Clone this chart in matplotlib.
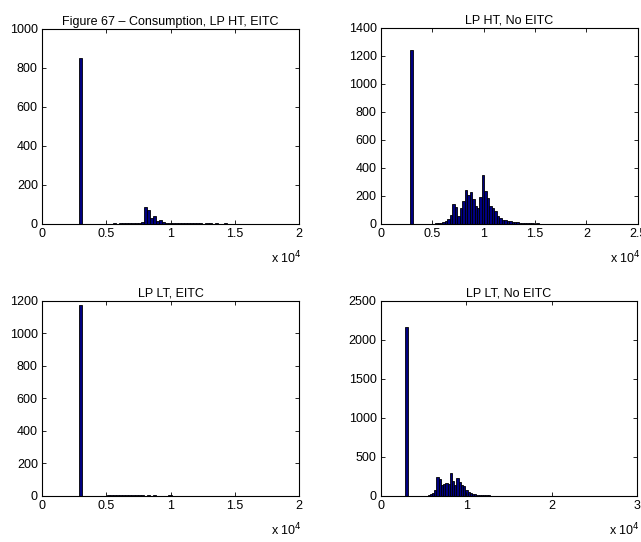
import numpy as np
import matplotlib.pyplot as plt
from matplotlib.ticker import FuncFormatter

plt.rcParams['font.family'] = ['Liberation Sans', 'DejaVu Sans']
plt.rcParams['font.size'] = 9

# histogram counts, one value per bin, bins start at 3000
titles = ['Figure 67 \u2013 Consumption, LP HT, EITC', 'LP HT, No EITC',
          'LP LT, EITC', 'LP LT, No EITC']
bin_start = 3000
bin_widths = [240, 240, 240, 260]

counts_ht_eitc = [850,
                  0, 0, 0, 0, 0, 0, 0, 1,
                  1, 1, 2, 1, 2, 2, 3, 2, 3, 4, 5, 7,
                  85, 70, 30, 38, 15, 20, 8, 6, 5, 4,
                  3, 3, 2, 3, 2, 2, 3, 2, 2, 1, 2, 2, 1, 2, 1, 1, 2, 1, 1, 1, 1, 0, 1, 1, 1]

counts_ht_noeitc = [1240,
                    0, 0, 0, 0, 0, 0, 1, 1,
                    2, 3, 4, 6, 10, 18, 35, 65,
                    140, 120, 55, 110, 160, 240, 205, 225,
                    180, 130, 110, 190, 350, 235, 185, 130,
                    115, 90, 55, 40, 30, 25, 20, 17,
                    14, 12, 10, 8, 6, 5, 4, 3, 3,
                    2, 3, 2, 2, 2, 1, 2, 1, 2, 1, 1, 2, 1, 1, 1, 1, 1, 1, 2, 1, 1, 1, 1, 0, 1, 1, 0, 1]

counts_lt_eitc = [1175,
                  0, 0, 0, 0, 0, 0, 0,
                  2, 4, 5, 4, 6, 7, 8, 6, 5, 4, 3,
                  3, 3, 2, 3, 2, 3, 2, 2, 2, 2, 3, 2, 2, 2, 1, 2, 2, 1, 2, 1, 1, 2, 1, 1, 1,
                  1, 1, 1, 1, 0, 1, 1, 0, 1, 1, 0, 1]

counts_lt_noeitc = [2160,
                    0, 0, 0, 0, 0, 1, 2, 3, 5, 10, 26, 40,
                    73, 248, 222, 137, 150, 171, 150, 299, 192, 137, 235, 179, 137, 128,
                    73, 56, 43, 30, 21, 17, 12, 10, 8, 7, 6,
                    5, 4, 4, 3, 3, 3, 2, 3, 2, 2, 2, 2, 2, 1, 2, 1, 2, 1, 1, 2, 1, 1, 1, 1,
                    2, 1, 1, 1, 1, 1, 0, 1, 1, 1, 0, 1, 1, 1, 0, 1, 1, 0, 1, 1, 0, 1, 1, 0, 1]

all_counts = [counts_ht_eitc, counts_ht_noeitc, counts_lt_eitc, counts_lt_noeitc]

xlims = [20000, 25000, 20000, 30000]
xticks = [[0, 5000, 10000, 15000, 20000],
          [0, 5000, 10000, 15000, 20000, 25000],
          [0, 5000, 10000, 15000, 20000],
          [0, 10000, 20000, 30000]]
ylims = [1000, 1400, 1200, 2500]
yticks = [np.arange(0, 1001, 200), np.arange(0, 1401, 200),
          np.arange(0, 1201, 200), np.arange(0, 2501, 500)]

positions = [[0.0655, 0.587, 0.401, 0.360],
             [0.594, 0.587, 0.401, 0.362],
             [0.0655, 0.085, 0.401, 0.360],
             [0.594, 0.085, 0.400, 0.360]]

fig = plt.figure(figsize=(6.41, 5.42), dpi=100)

for i in range(4):
    ax = fig.add_axes(positions[i])
    c = all_counts[i]
    w = bin_widths[i]
    centers = bin_start + w * np.arange(len(c))
    ax.bar(centers, c, width=w, color=(0, 0, 0.5), edgecolor='black', linewidth=0.6)
    ax.set_xlim(0, xlims[i])
    ax.set_ylim(0, ylims[i])
    ax.set_xticks(xticks[i])
    ax.set_yticks(yticks[i])
    ax.xaxis.set_major_formatter(FuncFormatter(lambda v, p: '%g' % (v / 1e4)))
    ax.tick_params(direction='in', top=True, right=True, length=3, width=0.6, pad=3)
    for s in ax.spines.values():
        s.set_linewidth(0.8)
    ax.set_title(titles[i], fontsize=9, pad=3)
    ax.text(1.01, -0.175, 'x 10$^4$', transform=ax.transAxes, ha='right', va='center')

fig.savefig('out.png', dpi=100)
